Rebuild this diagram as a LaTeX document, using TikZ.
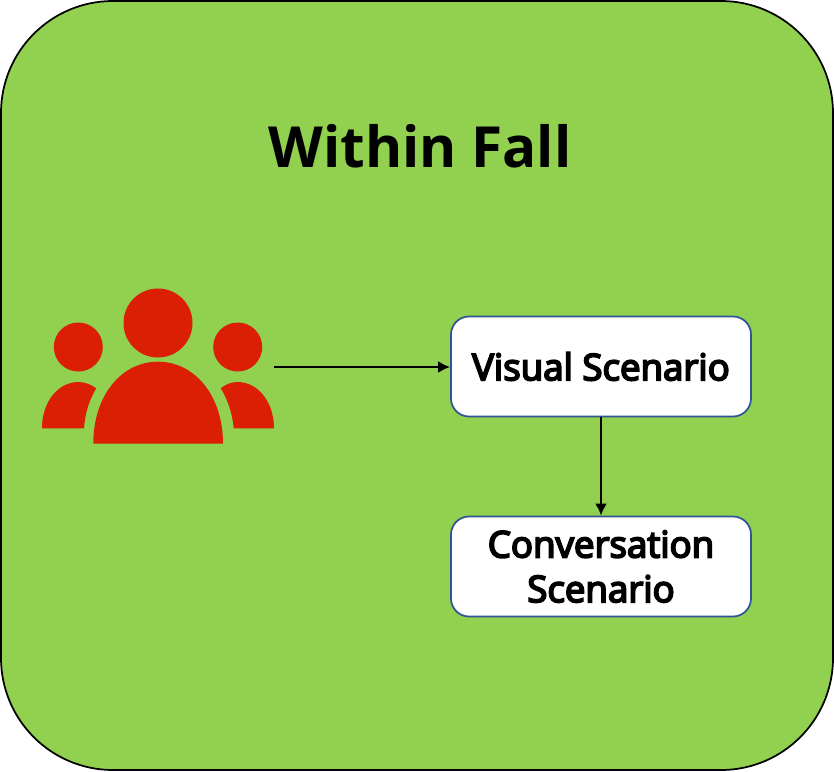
\documentclass[tikz,border=0pt]{standalone}
\usepackage{fontspec}
\setmainfont{Open Sans}
\usetikzlibrary{arrows.meta,positioning}
\definecolor{fallgreen}{RGB}{146,208,80}
\definecolor{iconred}{RGB}{218,31,5}
\definecolor{boxblue}{RGB}{47,85,151}
\newfontfamily\boxfont[FakeBold=5]{Open Sans}
\tikzset{
  scenario/.style={draw=boxblue, line width=1.3pt, fill=white, rounded corners=13.5pt,
    minimum width=225pt, minimum height=75pt, inner sep=0pt, align=center,
    font=\boxfont\fontsize{27.5}{33.5}\selectfont},
  flow/.style={-{Latex[length=9pt,width=9pt]}, line width=2pt, black}
}
\begin{document}
\begin{tikzpicture}[x=0.75pt,y=-0.75pt]
\useasboundingbox (0,0) rectangle (834,771);
% Outer panel
\draw[fill=fallgreen, draw=black, line width=1.3pt, rounded corners=84pt] (1,1) rectangle (833,770);
\node[font=\bfseries\fontsize{42.5}{50}\selectfont, inner sep=0pt] (title) at (420,146) {Within Fall};
% People icon
\fill[iconred] (158,323) circle (34.5);
\fill[iconred] (78.3,347) circle (24.5);
\fill[iconred] (237.7,347) circle (24.5);
\fill[iconred] (93.3,443.7) .. controls (93.3,396) and (121,361.7) .. (158,361.7)
  .. controls (195,361.7) and (223,396) .. (223,443.7) -- cycle;
\fill[iconred] (42,428.3) .. controls (42,402) and (58,382) .. (78.3,382)
  .. controls (85,382) and (91,384.5) .. (96.3,388.3)
  .. controls (89,400) and (85,414) .. (84,428.3) -- cycle;
\fill[iconred] (274,428.3) .. controls (274,402) and (258,382) .. (237.7,382)
  .. controls (231,382) and (225.5,384.5) .. (220.7,388.3)
  .. controls (228,400) and (232.5,414) .. (233.7,428.3) -- cycle;
% Scenario boxes
\node[scenario] (visual) at (601,366.5) {Visual Scenario};
\node[scenario] (conversation) at (601,566.5) {Conversation\\Scenario};
\coordinate (people) at (274,367);
\draw[flow] (people) -- (people -| visual.west);
\draw[flow] (visual) -- (conversation);
\end{tikzpicture}
\end{document}
